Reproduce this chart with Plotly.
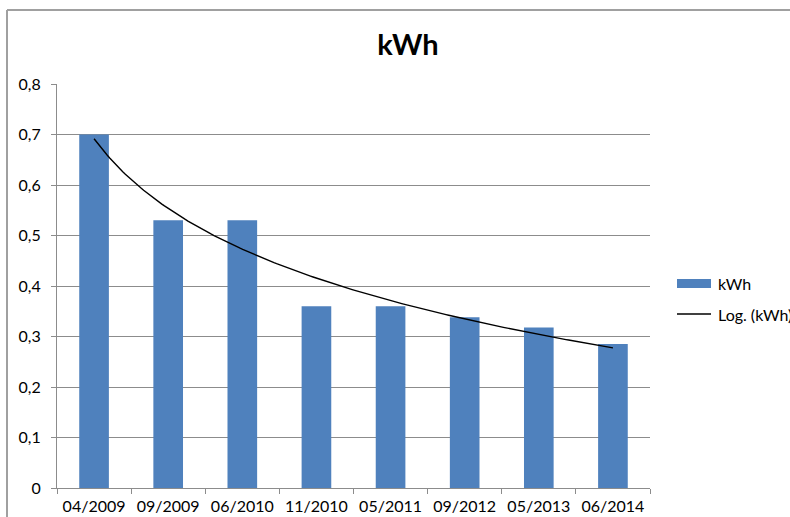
import numpy as np
import plotly.graph_objects as go

categories = ["04/2009", "09/2009", "06/2010", "11/2010", "05/2011", "09/2012", "05/2013", "06/2014"]
kwh_values = [0.70, 0.53, 0.53, 0.36, 0.36, 0.338, 0.318, 0.285]
y_tick_values = [0, 0.1, 0.2, 0.3, 0.4, 0.5, 0.6, 0.7, 0.8]
y_tick_labels = ["0", "0,1", "0,2", "0,3", "0,4", "0,5", "0,6", "0,7", "0,8"]
series_name = "kWh"
trend_name = "Log. (kWh)"
title_text = "kWh"

# logarithmic trendline (least squares on ln(x), x = 1..n)
n = len(kwh_values)
xs = np.arange(1, n + 1)
a, b = np.polyfit(np.log(xs), np.array(kwh_values), 1)
xt = np.linspace(1, n, 200)
yt = a * np.log(xt) + b

FONT = "Lato, 'Open Sans', sans-serif"
BAR = "#4F81BD"
GRID = "#8c8c8c"

fig = go.Figure()
fig.add_trace(go.Bar(x=categories, y=kwh_values, name=series_name,
                     marker=dict(color=BAR, line=dict(width=0)),
                     showlegend=False))
fig.add_trace(go.Scatter(x=xt - 1, y=yt, mode="lines", name=trend_name,
                         line=dict(color="black", width=1.4),
                         xaxis="x2", showlegend=False))

W, H = 790, 517
L, R, T, B = 57, 140, 84, 29

def px(x):
    return (x - L) / (W - L - R)

def py(y):
    return (H - B - y) / (H - T - B)

shapes = [
    # chart border (top and left visible)
    dict(type="line", xref="paper", yref="paper", x0=px(7), x1=px(800), y0=py(10), y1=py(10),
         line=dict(color="#a0a0a0", width=2)),
    dict(type="line", xref="paper", yref="paper", x0=px(7), x1=px(7), y0=py(10), y1=py(530),
         line=dict(color="#a0a0a0", width=2)),
    # legend symbols
    dict(type="rect", xref="paper", yref="paper", x0=px(677), x1=px(711), y0=py(279), y1=py(288),
         fillcolor=BAR, line=dict(width=0)),
    dict(type="line", xref="paper", yref="paper", x0=px(677), x1=px(711), y0=py(314), y1=py(314),
         line=dict(color="black", width=1.4)),
]
annotations = [
    dict(text=series_name, xref="paper", yref="paper", x=px(716), y=py(283), xanchor="left",
         yanchor="middle", showarrow=False, font=dict(family=FONT, size=16, color="black")),
    dict(text=trend_name, xref="paper", yref="paper", x=px(716), y=py(314), xanchor="left",
         yanchor="middle", showarrow=False, font=dict(family=FONT, size=16, color="black")),
]

fig.update_layout(
    width=W, height=H,
    margin=dict(l=L, r=R, t=T, b=B, pad=0),
    paper_bgcolor="white", plot_bgcolor="white",
    title=dict(text="<b>" + title_text + "</b>", x=408 / W, xanchor="center", y=1 - 45 / H,
               yanchor="middle", font=dict(family=FONT, size=29, color="black")),
    font=dict(family=FONT, size=16, color="black"),
    bargap=0.6,
    xaxis=dict(type="category", tickson="boundaries", ticks="outside", ticklen=5,
               tickcolor=GRID, showline=True, linecolor=GRID, linewidth=1,
               showgrid=False, range=[-0.5, n - 0.5], ticklabelstandoff=4, automargin=False,
               tickfont=dict(family=FONT, size=16, color="black")),
    xaxis2=dict(overlaying="x", range=[-0.5, n - 0.5], visible=False),
    yaxis=dict(range=[0, 0.8], tickvals=y_tick_values, ticktext=y_tick_labels,
               ticks="outside", ticklen=5, tickcolor=GRID, showline=True, linecolor=GRID,
               linewidth=1, showgrid=True, gridcolor=GRID, gridwidth=1, zeroline=False,
               ticklabelstandoff=7, automargin=False,
               tickfont=dict(family=FONT, size=16, color="black")),
    shapes=shapes,
    annotations=annotations,
)

fig.write_html("out.html", config={"displayModeBar": False},
               post_script="document.body.style.margin='0';document.body.style.overflow='hidden';")
